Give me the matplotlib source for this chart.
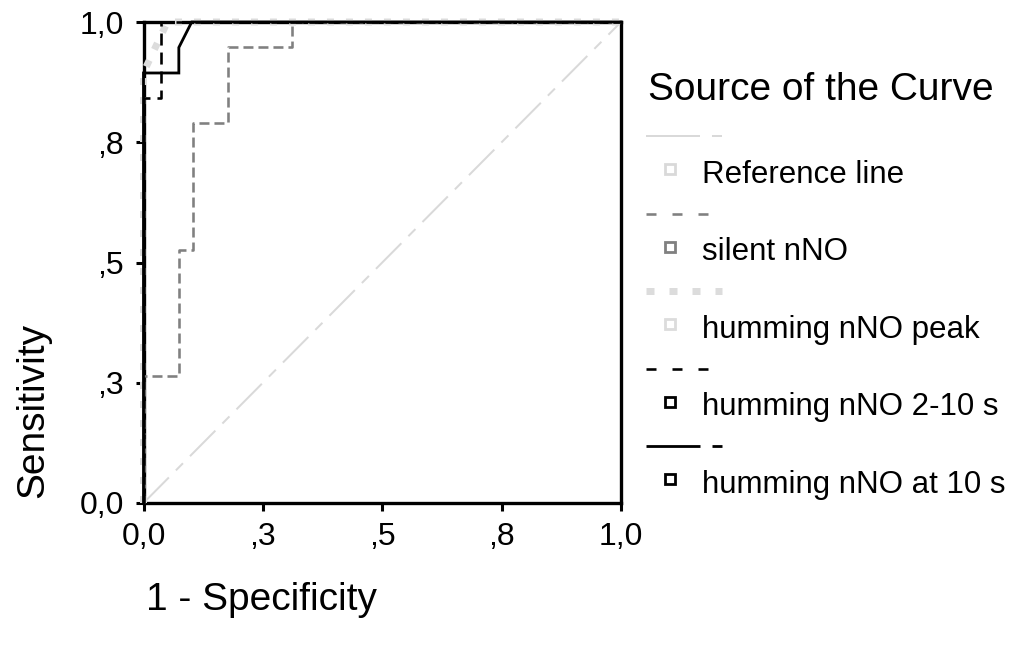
import matplotlib
matplotlib.use('Agg')
import matplotlib.pyplot as plt

plt.rcParams['font.family'] = 'Liberation Sans'
plt.rcParams['lines.scale_dashes'] = False

# ROC curves (1 - specificity, sensitivity)
ref_x = [0.0, 1.0]
ref_y = [0.0, 1.0]

silent_x = [0, 0, 0.074, 0.074, 0.103, 0.103, 0.177, 0.177, 0.312, 0.312, 1]
silent_y = [0, 0.263, 0.263, 0.526, 0.526, 0.789, 0.789, 0.947, 0.947, 1, 1]

peak_x = [0, 0, 0.05, 1]
peak_y = [0, 0.895, 1, 1]

h210_x = [0, 0, 0.037, 0.037, 1]
h210_y = [0, 0.842, 0.842, 1, 1]

h10_x = [0, 0, 0.074, 0.074, 0.101, 1]
h10_y = [0, 0.894, 0.894, 0.947, 1, 1]

ticks = [0, 0.25, 0.5, 0.75, 1.0]
tick_labels = ['0,0', ',3', ',5', ',8', '1,0']

legend_names = ['Reference line', 'silent nNO', 'humming nNO peak',
                'humming nNO 2-10 s', 'humming nNO at 10 s']

px = 1 / 1.389  # one pixel in points at dpi 100

styles = [
    dict(color='#d9d9d9', lw=2.0 * px, dashes=(36 * px, 10 * px, 10 * px, 10 * px)),
    dict(color='#808080', lw=2.6 * px, dashes=(10 * px, 5 * px)),
    dict(color='#dcdcdc', lw=7 * px, dashes=(7 * px, 12 * px)),
    dict(color='black', lw=2.6 * px, dashes=(12 * px, 7 * px)),
    dict(color='black', lw=2.8 * px, linestyle='-'),
]
legend_dashes = [
    (54 * px, 12 * px, 10 * px, 12 * px),
    (10 * px, 16 * px),
    (8 * px, 15 * px),
    (10 * px, 16 * px),
    (54 * px, 12 * px, 10 * px, 12 * px),
]
marker_edges = ['#d9d9d9', '#808080', '#dcdcdc', 'black', 'black']

fig = plt.figure(figsize=(10.10, 6.53), dpi=100)
ax = fig.add_axes([143.5 / 1010, 1 - 503 / 653, 477.5 / 1010, 481 / 653])

series = [(ref_x, ref_y), (silent_x, silent_y), (peak_x, peak_y),
          (h210_x, h210_y), (h10_x, h10_y)]
for (xs, ys), st in zip(series, styles):
    ax.plot(xs, ys, clip_on=False, solid_joinstyle='miter', **st)

ax.set_xlim(0, 1)
ax.set_ylim(0, 1)
ax.set_xticks(ticks)
ax.set_xticklabels(tick_labels)
ax.set_yticks(ticks)
ax.set_yticklabels(tick_labels)
ax.tick_params(direction='out', length=6, width=2.2, labelsize=23, pad=8)
for sp in ax.spines.values():
    sp.set_linewidth(2.4)
    sp.set_zorder(1)

fig.text(33 / 1010, 1 - 410 / 653, 'Sensitivity', rotation=90,
         ha='center', va='center', fontsize=28)
fig.text(146 / 1010, 1 - 600 / 653, '1 - Specificity',
         ha='left', va='center', fontsize=28)

# legend drawn in pixel space on an overlay
lax = fig.add_axes([0, 0, 1, 1])
lax.set_xlim(0, 1010)
lax.set_ylim(653, 0)
lax.axis('off')
lax.text(648, 90, 'Source of the Curve', ha='left', va='center', fontsize=28)
for i, name in enumerate(legend_names):
    y0 = 136 + i * 77.5
    st = dict(styles[i])
    st.pop('linestyle', None)
    st['dashes'] = legend_dashes[i]
    lax.plot([646, 722], [y0, y0], **st)
    lax.plot([670], [y0 + 33], marker='s', markersize=7, markerfacecolor='white',
             markeredgecolor=marker_edges[i], markeredgewidth=2)
    lax.text(702, y0 + 39, name, ha='left', va='center', fontsize=22.5)

fig.savefig('out.png', dpi=100)
